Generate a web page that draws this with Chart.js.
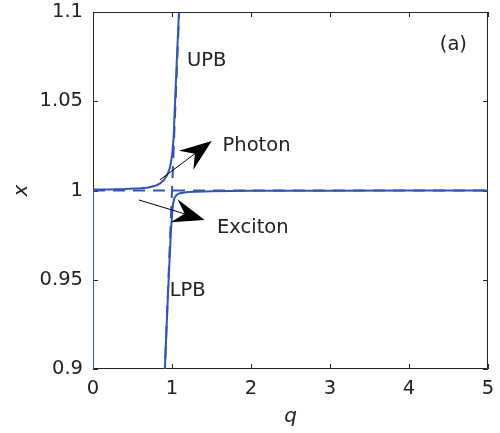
<!DOCTYPE html>
<html>
<head>
<meta charset="utf-8">
<script src="https://cdn.jsdelivr.net/npm/chart.js@4"></script>
<style>
  html, body { margin: 0; padding: 0; background: #fff; }
  #wrap { width: 500px; height: 433px; }
</style>
</head>
<body>
<div id="wrap"><canvas id="c" width="500" height="433"></canvas></div>
<script>
// ---- data ----
const qTicks = [0, 1, 2, 3, 4, 5];
const xTicks = [0.9, 0.95, 1, 1.05, 1.1];

// upper polariton branch (solid)
const upbQ = [0, 0.2, 0.4, 0.6, 0.7, 0.8, 0.85, 0.9, 0.94, 0.97, 0.99, 1.005, 1.02, 1.04, 1.06, 1.088, 1.1];
const upbX = [1.0005, 1.0006, 1.0008, 1.0012, 1.0017, 1.0028, 1.0040, 1.0060, 1.0088, 1.0122, 1.0165, 1.0215, 1.0295, 1.051, 1.072, 1.1, 1.113];

// lower polariton branch (solid)
const lpbQ = [0, 0, 0.86, 0.905, 0.95, 0.97, 0.985, 1.0, 1.013, 1.03, 1.06, 1.1, 1.2, 1.5, 2, 3, 4, 5];
const lpbX = [1.0, 0.85, 0.85, 0.895, 0.943, 0.962, 0.976, 0.986, 0.9925, 0.9957, 0.9976, 0.9985, 0.9992, 0.9996, 0.9998, 0.9999, 1.0, 1.0];

// bare photon and exciton (dashed)
const photonQ = [0.905, 1.095];
const photonX = [0.895, 1.105];
const excitonQ = [0, 5];
const excitonX = [1.0, 1.0];

// annotations
const noteText = ['UPB', 'Photon', 'Exciton', 'LPB', '(a)'];
const noteQ = [1.19, 1.64, 1.57, 0.97, 4.39];
const noteX = [1.0728, 1.0249, 0.979, 0.944, 1.0815];

const arrowFromQ = [0.846, 0.581];
const arrowFromX = [1.0059, 0.9947];
const arrowToQ = [1.503, 1.414];
const arrowToX = [1.0277, 0.9835];

// ---- helpers ----
const toPts = (qs, xs) => qs.map((q, i) => ({ x: q, y: xs[i] }));
const BLUE = 'rgb(50, 84, 184)';
const FONT = '"DejaVu Sans", Arial, Helvetica, sans-serif';
const FS = 19.5;

const framePlugin = {
  id: 'frame',
  beforeDatasetsDraw(chart) {
    const { ctx, chartArea: a, scales } = chart;
    ctx.save();
    ctx.strokeStyle = '#222';
    ctx.lineWidth = 1;
    ctx.beginPath();
    ctx.rect(a.left + 0.5, a.top + 0.5, a.right - a.left - 1, a.bottom - a.top - 1);
    ctx.stroke();
    const L = 5;
    ctx.beginPath();
    scales.x.ticks.forEach(t => {
      const px = Math.round(scales.x.getPixelForValue(t.value)) + 0.5;
      ctx.moveTo(px, a.bottom); ctx.lineTo(px, a.bottom - L);
      ctx.moveTo(px, a.top); ctx.lineTo(px, a.top + L);
    });
    scales.y.ticks.forEach(t => {
      const py = Math.round(scales.y.getPixelForValue(t.value)) + 0.5;
      ctx.moveTo(a.left, py); ctx.lineTo(a.left + L, py);
      ctx.moveTo(a.right, py); ctx.lineTo(a.right - L, py);
    });
    ctx.stroke();
    ctx.restore();
  },
  afterDatasetsDraw(chart) {
    const { ctx, scales } = chart;
    ctx.save();
    // arrows
    ctx.fillStyle = '#000';
    ctx.strokeStyle = '#000';
    for (let i = 0; i < arrowFromQ.length; i++) {
      const x1 = scales.x.getPixelForValue(arrowFromQ[i]);
      const y1 = scales.y.getPixelForValue(arrowFromX[i]);
      const x2 = scales.x.getPixelForValue(arrowToQ[i]);
      const y2 = scales.y.getPixelForValue(arrowToX[i]);
      const ang = Math.atan2(y2 - y1, x2 - x1);
      const HL = 32, HW = 12, NOTCH = 21;
      const ux = Math.cos(ang), uy = Math.sin(ang);
      const nx = -uy, ny = ux;
      const bx = x2 - ux * HL, by = y2 - uy * HL;
      const kx = x2 - ux * NOTCH, ky = y2 - uy * NOTCH;
      ctx.lineWidth = 1;
      ctx.beginPath();
      ctx.moveTo(x1, y1); ctx.lineTo(kx, ky);
      ctx.stroke();
      ctx.beginPath();
      ctx.moveTo(x2, y2);
      ctx.lineTo(bx + nx * HW, by + ny * HW);
      ctx.lineTo(kx, ky);
      ctx.lineTo(bx - nx * HW, by - ny * HW);
      ctx.closePath();
      ctx.fill();
    }
    // text labels
    ctx.fillStyle = '#222';
    ctx.font = FS + 'px ' + FONT;
    ctx.textBaseline = 'middle';
    ctx.textAlign = 'left';
    noteText.forEach((t, i) => {
      ctx.fillText(t, scales.x.getPixelForValue(noteQ[i]), scales.y.getPixelForValue(noteX[i]));
    });
    ctx.restore();
  }
};

new Chart(document.getElementById('c'), {
  type: 'scatter',
  data: {
    datasets: [
      { label: 'Exciton', data: toPts(excitonQ, excitonX), showLine: true, borderColor: BLUE, borderWidth: 2, borderDash: [12, 8], pointRadius: 0 },
      { label: 'Photon', data: toPts(photonQ, photonX), showLine: true, borderColor: BLUE, borderWidth: 2, borderDash: [12, 8], pointRadius: 0 },
      { label: 'UPB', data: toPts(upbQ, upbX), showLine: true, borderColor: BLUE, borderWidth: 2, pointRadius: 0, tension: 0 },
      { label: 'LPB', data: toPts(lpbQ, lpbX), showLine: true, borderColor: BLUE, borderWidth: 2, pointRadius: 0, tension: 0 }
    ]
  },
  options: {
    responsive: false,
    animation: false,
    layout: { padding: { left: 0, top: 12, right: 12, bottom: 0 } },
    plugins: { legend: { display: false }, tooltip: { enabled: false } },
    scales: {
      x: {
        type: 'linear', min: 0, max: 5,
        afterBuildTicks: s => { s.ticks = qTicks.map(v => ({ value: v })); },
        afterFit: s => { s.height = 64; s.paddingLeft = 0; s.paddingRight = 0; },
        grid: { display: false, drawTicks: false },
        border: { display: false },
        ticks: { color: '#222', font: { family: FONT, size: FS }, padding: 8, maxRotation: 0, callback: v => String(v) },
        title: { display: true, text: 'q', color: '#222', font: { family: FONT, size: 20, style: 'italic' }, padding: { top: 0, bottom: 4 } }
      },
      y: {
        type: 'linear', min: 0.9, max: 1.1,
        afterBuildTicks: s => { s.ticks = xTicks.map(v => ({ value: v })); },
        afterFit: s => { s.width = 93; s.paddingTop = 0; s.paddingBottom = 0; },
        grid: { display: false, drawTicks: false },
        border: { display: false },
        ticks: { color: '#222', font: { family: FONT, size: FS }, padding: 10, callback: v => String(v) },
        title: { display: true, text: 'x', color: '#222', font: { family: FONT, size: 20, style: 'italic' }, padding: { top: 10, bottom: 0 } }
      }
    }
  },
  plugins: [framePlugin]
});
</script>
</body>
</html>
